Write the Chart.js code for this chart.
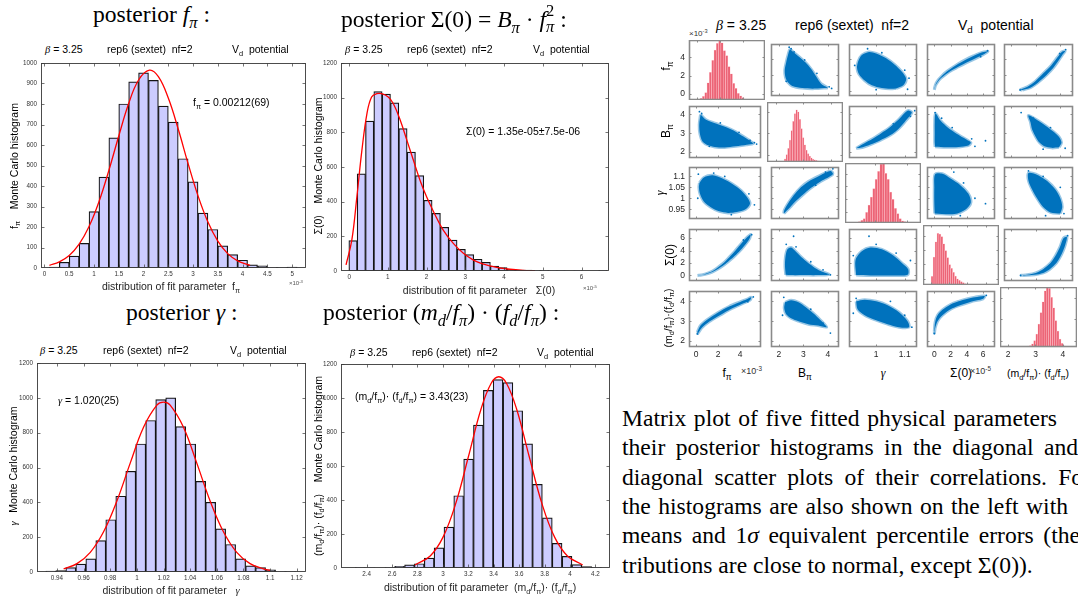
<!DOCTYPE html>
<html><head><meta charset="utf-8">
<script src="https://cdn.jsdelivr.net/npm/chart.js@4.4.1/dist/chart.umd.min.js"></script>
<style>
html,body{margin:0;padding:0;background:#fff;width:1078px;height:601px;overflow:hidden;position:relative;}
canvas{position:absolute;}
.t{position:absolute;white-space:nowrap;line-height:1;color:#000;}
.t sub{font-size:70%;vertical-align:-0.35em;line-height:0;}
.t sup{font-size:70%;vertical-align:0.5em;line-height:0;}
.st{display:inline-block;vertical-align:-0.3em;font-size:70%;line-height:0.95;}
.st span{display:block;}
</style></head><body>
<script>
// ================= DATA =================
// f_pi histogram (units 1e-3)
const fpiBins   = [0.2,0.4,0.6,0.8,1.0,1.2,1.4,1.6,1.8,2.0,2.2,2.4,2.6,2.8,3.0,3.2,3.4,3.6,3.8,4.0,4.2,4.4,4.6,4.8,5.0];
const fpiCounts = [5,28,58,120,275,443,635,800,908,952,915,790,712,533,420,268,188,108,65,38,15,10,3,2,5];
const fpiFitX   = [0.1,0.3,0.5,0.7,0.9,1.1,1.3,1.5,1.7,1.9,2.12,2.3,2.5,2.7,2.9,3.1,3.3,3.5,3.7,3.9,4.15];
const fpiFitY   = [13,30,61,116,202,323,476,644,802,917,965,933,829,678,509,352,224,131,70,35,13];
const fpiXTicks = [0,0.5,1,1.5,2,2.5,3,3.5,4,4.5,5];

// Sigma(0) histogram (units 1e-5)
const sigBins   = [0.1,0.315,0.53,0.745,0.96,1.175,1.39,1.605,1.82,2.035,2.25,2.465,2.68,2.895,3.11,3.325,3.54,3.755,3.97,4.185,4.4,4.615,4.83,5.045,5.26,5.475,5.69,5.905,6.12,6.335,6.55];
const sigCounts = [175,560,865,1035,1020,970,822,686,550,408,332,252,178,125,95,68,50,28,20,10,6,5,3,2,1,1,0,1,0,0,3];
const sigFitX   = [-0.08,0.07,0.2,0.33,0.46,0.58,0.71,0.84,1.01,1.14,1.32,1.49,1.66,1.83,2.0,2.18,2.43,2.69,2.95,3.21,3.47,3.81,4.15,4.5,4.8];
const sigFitY   = [35,179,428,697,908,1004,1023,1023,1004,966,870,755,639,524,428,342,236,159,102,63,40,21,10,4,2];
const sigXTicks = [0,1,2,3,4,5,6];

// gamma histogram
const gamBins   = [0.9354,0.9429,0.9504,0.9579,0.9654,0.9729,0.9804,0.9879,0.9954,1.0029,1.0104,1.0179,1.0254,1.0329,1.0404,1.0479,1.0554,1.0629,1.0704,1.0779,1.0854,1.0929,1.1004,1.1079,1.1154];
const gamCounts = [5,8,25,45,75,180,300,435,578,735,870,990,1000,835,735,520,400,248,158,75,35,25,12,3,3];
const gamFitX   = [0.945,0.955,0.965,0.975,0.985,0.995,1.005,1.015,1.02,1.025,1.035,1.045,1.055,1.065,1.075,1.085,1.095,1.1];
const gamFitY   = [18,48,113,231,408,625,831,958,975,958,831,625,408,231,113,48,18,10];
const gamXTicks = [0.94,0.96,0.98,1,1.02,1.04,1.06,1.08,1.1,1.12];

// (m_d/f_pi)(f_d/f_pi) histogram
const mddBins   = [2.349,2.427,2.504,2.582,2.659,2.737,2.814,2.892,2.969,3.047,3.124,3.202,3.279,3.357,3.434,3.512,3.589,3.667,3.744,3.822,3.899,3.977,4.054,4.132,4.209];
const mddCounts = [2,1,0,2,10,18,25,58,118,240,425,640,840,1045,1108,1090,925,730,492,295,145,68,20,8,3];
const mddFitX   = [2.78,2.9,3.0,3.1,3.2,3.3,3.38,3.44,3.5,3.58,3.68,3.78,3.88,3.98,4.1];
const mddFitY   = [18,71,180,377,653,935,1087,1125,1087,935,653,377,180,71,18];
const mddXTicks = [2.4,2.6,2.8,3,3.2,3.4,3.6,3.8,4,4.2];

// B_pi histogram (matrix diagonal only)
const bpiBins   = [2.22,2.28,2.34,2.40,2.46,2.52,2.58,2.64,2.70,2.76,2.82,2.88,2.94,3.00,3.06,3.12,3.18,3.24,3.30,3.36,3.42,3.48,3.54,3.60,3.66,3.72,3.78,3.84,3.90,3.96,4.02,4.08];
const bpiCounts = [5,20,60,140,260,420,600,780,930,1000,960,820,640,470,330,230,160,115,80,58,42,30,22,16,12,8,6,4,3,2,1,1];

const count1000Ticks = [0,100,200,300,400,500,600,700,800,900,1000];
const count1200Ticks = [0,200,400,600,800,1000,1200];

// matrix: parameter order f_pi, B_pi, gamma, Sigma(0), mdfd
const matYTicks = [[0,2,4],[2,3,4],[0.95,1,1.05,1.1],[0,2,4,6],[2,3,4]];
const matXTicks = [[0,2,4],[2,3,4],[1,1.1],[0,2,4,6],[2,3,4]];

// scatter clouds: outlines of the dense point clouds, as (first param, second param)
const cloudFB = [[0.4,4.0],[0.9,3.72],[1.8,3.52],[2.8,3.3],[3.6,3.08],[4.3,2.82],[5.0,2.55],[5.2,2.45],[4.6,2.38],[3.6,2.3],[2.6,2.24],[1.7,2.27],[1.1,2.36],[0.6,2.55],[0.35,2.95],[0.28,3.45],[0.4,4.0]];
const strayFB = [[0.3,4.15],[5.3,2.5],[4.9,2.62],[0.5,4.05],[4.4,2.7],[3.9,3.05],[2.2,3.55],[1.2,2.3],[5.5,2.42]];
const cloudFG = [[0.3,1.07],[0.7,1.095],[1.5,1.105],[2.4,1.09],[3.3,1.065],[4.1,1.035],[4.7,1.0],[4.9,0.975],[4.5,0.95],[3.7,0.937],[2.9,0.933],[2.1,0.94],[1.3,0.96],[0.7,0.985],[0.35,1.02],[0.25,1.05],[0.3,1.07]];
const strayFG = [[5.3,0.97],[0.2,1.11],[1.6,1.115],[4.8,1.02],[3.2,0.925],[0.15,1.0],[2.6,1.1]];
const cloudFS = [[0.12,0.0],[0.6,0.12],[1.0,0.33],[1.5,0.7],[2.0,1.3],[2.5,2.0],[3.0,2.9],[3.5,3.85],[4.0,4.9],[4.5,5.9],[4.95,6.6],[4.85,5.9],[4.4,4.8],[3.9,3.8],[3.4,2.95],[2.9,2.2],[2.4,1.5],[1.9,0.95],[1.4,0.5],[0.9,0.2],[0.4,0.04],[0.12,0.0]];
const strayFS = [[5.05,6.55],[4.3,5.7]];
const cloudFM = [[0.1,2.45],[0.4,2.78],[1.0,3.07],[2.0,3.44],[3.0,3.74],[4.0,3.97],[4.6,4.1],[5.0,4.2],[4.9,4.06],[4.2,3.88],[3.2,3.63],[2.2,3.31],[1.2,2.98],[0.5,2.66],[0.15,2.38],[0.1,2.45]];
const strayFM = [[5.2,4.22],[0.12,2.36],[4.7,3.98]];
const cloudBG = [[2.2,0.93],[2.45,0.958],[2.7,0.988],[3.0,1.018],[3.3,1.047],[3.7,1.077],[4.2,1.11],[4.1,1.125],[3.6,1.1],[3.2,1.076],[2.9,1.05],[2.6,1.012],[2.4,0.98],[2.22,0.945],[2.2,0.93]];
const strayBG = [[4.2,1.135],[3.9,1.12],[3.5,1.06]];
const cloudBS = [[2.28,0.1],[2.25,1.5],[2.27,3.0],[2.35,4.2],[2.5,4.5],[2.65,4.0],[2.85,3.2],[3.1,2.3],[3.4,1.4],[3.7,0.7],[4.05,0.15],[3.6,0.05],[3.0,0.05],[2.5,0.05],[2.28,0.1]];
const strayBS = [[2.6,6.3],[4.1,0.1],[2.3,5.0],[3.3,2.2],[2.7,4.6],[3.8,0.9]];
const cloudBM = [[2.25,3.95],[2.5,4.05],[2.8,3.95],[3.1,3.7],[3.4,3.4],[3.7,3.05],[3.95,2.7],[3.6,2.78],[3.2,2.85],[2.8,3.0],[2.5,3.15],[2.3,3.35],[2.22,3.65],[2.25,3.95]];
const strayBM = [[4.1,2.4],[2.2,4.2],[3.8,2.9],[3.3,3.6],[2.15,3.3]];
const cloudGS = [[0.93,0.05],[0.928,2.5],[0.95,3.9],[0.98,4.5],[1.02,4.2],[1.06,3.2],[1.09,2.0],[1.112,1.0],[1.11,0.1],[1.05,0.0],[0.98,0.0],[0.93,0.05]];
const strayGS = [[0.975,6.3],[1.12,2.4],[1.0,5.0],[1.07,3.6],[0.92,3.2]];
const cloudGM = [[0.93,4.0],[0.96,4.08],[1.0,4.0],[1.04,3.8],[1.08,3.45],[1.11,3.0],[1.115,2.7],[1.08,2.7],[1.04,2.85],[1.0,3.05],[0.96,3.3],[0.935,3.6],[0.93,4.0]];
const strayGM = [[1.125,2.7],[0.93,4.15],[1.1,3.3],[0.92,3.4],[1.05,4.0]];
const cloudSM = [[0.0,2.5],[0.1,2.95],[0.4,3.3],[1.0,3.57],[2.0,3.84],[3.0,4.0],[4.0,4.12],[5.0,4.21],[6.2,4.27],[6.0,4.13],[4.5,3.98],[3.0,3.78],[2.0,3.6],[1.0,3.3],[0.4,3.0],[0.1,2.65],[0.02,2.4],[0.0,2.5]];
const straySM = [[6.4,4.3],[0.0,2.38],[5.5,4.15]];

// ================= RENDERING =================
const SANS = '"Liberation Sans", Arial, Helvetica, sans-serif';
const SERIF = '"Liberation Serif", "Times New Roman", serif';
Chart.defaults.font.family = SANS;
const fmt = v => String(+(+v).toFixed(4));

// MATLAB-like box: frame, inward ticks on all four sides, tick labels from the scales
const framePlugin = {
  id: 'frame',
  afterDraw(chart, args, o) {
    if (!o || !o.color) return;
    const ctx = chart.ctx, a = chart.chartArea;
    const L = Math.round(a.left) + 0.5, R = Math.round(a.right) - 0.5;
    const T = Math.round(a.top) + 0.5, B = Math.round(a.bottom) - 0.5;
    const n = o.len, xs = chart.scales.x, ys = chart.scales.y;
    const xt = o.xt || [], yt = o.yt || [];
    ctx.save();
    ctx.strokeStyle = o.color; ctx.lineWidth = o.tickWidth || 1;
    ctx.beginPath();
    xt.forEach(v => { const p = Math.round(xs.getPixelForValue(v)) + 0.5; if (p < L || p > R) return;
      ctx.moveTo(p, B); ctx.lineTo(p, B - n); ctx.moveTo(p, T); ctx.lineTo(p, T + n); });
    yt.forEach(v => { const p = Math.round(ys.getPixelForValue(v)) + 0.5; if (p < T || p > B) return;
      ctx.moveTo(L, p); ctx.lineTo(L + n, p); ctx.moveTo(R, p); ctx.lineTo(R - n, p); });
    ctx.stroke();
    ctx.lineWidth = o.width;
    ctx.strokeRect(L, T, R - L, B - T);
    ctx.fillStyle = o.fc; ctx.font = o.fs + 'px ' + SANS;
    if (o.xl) {
      ctx.textAlign = 'center'; ctx.textBaseline = 'top';
      xt.forEach(v => ctx.fillText(fmt(v), xs.getPixelForValue(v), a.bottom + o.lp));
    }
    if (o.yl) {
      ctx.textAlign = 'right'; ctx.textBaseline = 'middle';
      yt.forEach(v => ctx.fillText(fmt(v), a.left - o.lp - 1, ys.getPixelForValue(v)));
    }
    ctx.restore();
  }
};
Chart.register(framePlugin);

function place(rect, pad) {
  const c = document.createElement('canvas');
  c.width = rect.w + pad.l + pad.r; c.height = rect.h + pad.t + pad.b;
  c.style.left = (rect.x - pad.l) + 'px'; c.style.top = (rect.y - pad.t) + 'px';
  document.body.appendChild(c); return c;
}
function axis(min, max, size, isX) {
  return {
    type: 'linear', min, max, offset: false, display: true,
    grid: { display: false }, border: { display: false },
    ticks: { display: false },
    afterFit: s => { if (isX) s.height = size; else s.width = size; s.paddingLeft = s.paddingRight = s.paddingTop = s.paddingBottom = 0; }
  };
}
function baseOpts(pad, frame) {
  return { responsive: false, animation: false, events: [], devicePixelRatio: 1,
    layout: { padding: { left: 0, right: pad.r, top: pad.t, bottom: 0 } },
    plugins: { legend: { display: false }, tooltip: { enabled: false }, frame } };
}

function histPanel(rect, bins, counts, fitX, fitY, xr, yr, xt, yt) {
  const pad = { l: 30, r: 8, t: 6, b: 13 };
  const cv = place(rect, pad);
  const o = baseOpts(pad, { color: '#3a3a3a', width: 0.9, len: 3, tickWidth: 0.7, xt, yt, xl: true, yl: true, fs: 6.3, fc: '#333', lp: 3 });
  o.scales = { x: axis(xr[0], xr[1], pad.b, true), y: axis(yr[0], yr[1], pad.l, false) };
  new Chart(cv, { type: 'bar', data: { datasets: [
    { type: 'line', data: fitX.map((x, k) => ({ x, y: fitY[k] })), borderColor: '#ff0000', borderWidth: 1.3, pointRadius: 0, tension: 0.4, fill: false, order: 0 },
    { type: 'bar', data: bins.map((x, k) => ({ x, y: counts[k] })), backgroundColor: 'rgb(204,204,255)', borderColor: '#141414', borderWidth: 1.2, borderSkipped: false, barPercentage: 1, categoryPercentage: 1, grouped: false, order: 1 }
  ] }, options: o });
}

histPanel({ x: 41, y: 63, w: 265, h: 205 }, fpiBins, fpiCounts, fpiFitX, fpiFitY, [-0.07, 5.28], [0, 1000], fpiXTicks, count1000Ticks);
histPanel({ x: 341, y: 63, w: 268, h: 208 }, sigBins, sigCounts, sigFitX, sigFitY, [-0.21, 6.71], [0, 1200], sigXTicks, count1200Ticks);
histPanel({ x: 37, y: 363, w: 269, h: 209 }, gamBins, gamCounts, gamFitX, gamFitY, [0.925, 1.127], [0, 1200], gamXTicks, count1200Ticks);
histPanel({ x: 341, y: 364, w: 269, h: 204 }, mddBins, mddCounts, mddFitX, mddFitY, [2.198, 4.315], [0, 1200], mddXTicks, count1200Ticks);

// ---- matrix plot ----
const matRange = [[-0.65, 5.9], [1.68, 4.45], [0.905, 1.143], [-0.9, 7.47], [1.7, 4.52]];
const diagBins = [fpiBins, bpiBins, gamBins, sigBins, mddBins];
const diagCounts = [fpiCounts, bpiCounts, gamCounts, sigCounts, mddCounts];
const diagMax = [960, 1150, 1010, 1200, 1115];
const pairs = {
  '0-1': [cloudFB, strayFB], '0-2': [cloudFG, strayFG], '0-3': [cloudFS, strayFS], '0-4': [cloudFM, strayFM],
  '1-2': [cloudBG, strayBG], '1-3': [cloudBS, strayBS], '1-4': [cloudBM, strayBM],
  '2-3': [cloudGS, strayGS], '2-4': [cloudGM, strayGM], '3-4': [cloudSM, straySM]
};
const colX = [689, 767, 845, 923, 1000], colW = [76, 76, 76, 76, 77];
const rowY = [40, 102, 163, 225, 287], rowH = 60;
const BLUE = '#0072BD';
for (let i = 0; i < 5; i++) {
  for (let j = 0; j < 5; j++) {
    const pad = { l: j === 0 ? 26 : 0, r: 0, t: 0, b: i === 4 ? 14 : 0 };
    const rect = { x: colX[j], y: rowY[i], w: colW[j], h: rowH };
    const cv = place(rect, pad);
    const o = baseOpts(pad, { color: '#8a8a8a', width: 1.6, len: 2, tickWidth: 1,
      xt: matXTicks[j], yt: matYTicks[i], xl: i === 4, yl: j === 0, fs: 8.5, fc: '#262626', lp: 3 });
    o.scales = { x: axis(matRange[j][0], matRange[j][1], pad.b, true), y: axis(matRange[i][0], matRange[i][1], pad.l, false) };
    let cfg;
    if (i === j) {
      o.scales.yc = { type: 'linear', display: false, min: 0, max: diagMax[i] };
      cfg = { type: 'bar', data: { datasets: [{ type: 'bar', yAxisID: 'yc', data: diagBins[i].map((x, k) => ({ x, y: diagCounts[i][k] })),
        backgroundColor: 'rgb(236,100,118)', borderColor: 'rgba(255,200,208,0.85)', borderWidth: 0.5, borderSkipped: false,
        barPercentage: 1, categoryPercentage: 1, grouped: false }] }, options: o };
    } else {
      const a = Math.min(i, j), b = Math.max(i, j);
      const [cloud, stray] = pairs[a + '-' + b];
      // first element = param a, second = param b ; x = param j, y = param i
      const map = j < i ? (p => ({ x: p[0], y: p[1] })) : (p => ({ x: p[1], y: p[0] }));
      cfg = { type: 'line', data: { datasets: [
        { data: cloud.map(map), fill: 'shape', backgroundColor: BLUE, borderColor: 'rgba(0,114,189,0.4)', borderWidth: 3, pointRadius: 0, tension: 0.3 },
        { data: stray.map(map), showLine: false, pointRadius: 0.9, pointBackgroundColor: BLUE, pointBorderWidth: 0 }
      ] }, options: o };
    }
    new Chart(cv, cfg);
  }
}

// ================= TEXT =================
function T(html, x, base, size, opt = {}) {
  const d = document.createElement('div'); d.className = 't'; d.innerHTML = html;
  d.style.fontSize = size + 'px'; d.style.fontFamily = opt.serif ? SERIF : SANS;
  d.style.top = (base - 0.86 * size) + 'px'; d.style.left = x + 'px';
  if (opt.mid) d.style.transform = 'translateX(-50%)';
  if (opt.w) { d.style.width = opt.w + 'px'; d.style.textAlign = 'justify'; d.style.textAlignLast = 'justify'; d.style.whiteSpace = 'normal'; }
  if (opt.color) d.style.color = opt.color;
  document.body.appendChild(d); return d;
}
function RT(html, cx, cy, size, opt = {}) {
  const d = document.createElement('div'); d.className = 't'; d.innerHTML = html;
  d.style.fontSize = size + 'px'; d.style.fontFamily = opt.serif ? SERIF : SANS;
  d.style.left = cx + 'px'; d.style.top = cy + 'px';
  d.style.transform = 'translate(-50%,-50%) rotate(-90deg)';
  document.body.appendChild(d); return d;
}
const gb = '<i style="font-family:' + SERIF.replace(/"/g, "'") + '">β</i>';
const gg = '<i style="font-family:' + SERIF.replace(/"/g, "'") + '">γ</i>';
const MD = '(m<sub>d</sub>/f<sub>π</sub>)· (f<sub>d</sub>/f<sub>π</sub>)';

// headers
const HS = 23.6;
T('posterior <i>f</i><sub><i>π</i></sub> :', 93, 23.5, HS, { serif: true });
T('posterior Σ(0) = <i>B</i><sub><i>π</i></sub> · <i>f</i><span class="st"><span>2</span><span><i>π</i></span></span> :', 341, 23.5, HS, { serif: true });
T('posterior <i>γ</i> :', 126, 321, HS, { serif: true });
T('posterior (<i>m<sub>d</sub></i>/<i>f</i><sub><i>π</i></sub>) · (<i>f<sub>d</sub></i>/<i>f</i><sub><i>π</i></sub>) :', 323, 321, HS, { serif: true });

// panel titles
const TS = 10.5;
function ptitle(base, x1, x2, x3) {
  T(gb + ' = 3.25', x1, base, TS);
  T('rep6 (sextet)&nbsp; nf=2', x2, base, TS);
  T('V<sub>d</sub>&nbsp; potential', x3, base, TS);
}
ptitle(53.5, 45, 107, 232);
ptitle(53, 345, 407, 533);
ptitle(354.5, 40, 103, 230);
ptitle(356, 350, 412, 537);

// axis labels
T('distribution of fit parameter&nbsp; f<sub>π</sub>', 171, 290, TS, { mid: true, color: '#262626' });
T('distribution of fit parameter&nbsp;&nbsp; Σ(0)', 479, 294, TS, { mid: true, color: '#262626' });
T('distribution of fit parameter&nbsp;&nbsp; ' + gg, 171, 594, TS, { mid: true, color: '#262626' });
T('distribution of fit parameter&nbsp; ' + MD, 480, 591, TS, { mid: true, color: '#262626' });
RT('f<sub>π</sub>&nbsp;&nbsp;&nbsp; Monte Carlo histogram', 13.5, 166, TS);
RT('Σ(0)&nbsp;&nbsp;&nbsp; Monte Carlo histogram', 318, 166, TS);
RT(gg + '&nbsp;&nbsp; Monte Carlo histogram', 13.5, 466, TS);
RT(MD + '&nbsp;&nbsp;&nbsp; Monte Carlo histogram', 318, 466, TS);
T('×10<sup>-3</sup>', 289, 285, 6, { color: '#555' });
T('×10<sup>-5</sup>', 583, 290, 6, { color: '#555' });

// annotations
T('f<sub>π</sub> = 0.00212(69)', 193, 106.5, TS);
T('Σ(0) = 1.35e-05±7.5e-06', 466, 135, TS);
T(gg + ' = 1.020(25)', 58, 404, TS);
T(MD + ' = 3.43(23)', 355, 400, TS);

// matrix titles and labels
T(gb + ' = 3.25', 716, 30, 14);
T('rep6 (sextet)&nbsp; nf=2', 795, 30, 14);
T('V<sub>d</sub>&nbsp; potential', 958, 30, 14);
T('×10<sup>-3</sup>', 689, 37, 8, { color: '#333' });
RT('f<sub>π</sub>', 666, 66, 12);
RT('B<sub>π</sub>', 666, 131, 12);
RT(gg, 660, 193, 12);
RT('Σ(0)', 670, 255, 12);
RT('(m<sub>d</sub>/f<sub>π</sub>)·(f<sub>d</sub>/f<sub>π</sub>)', 668, 318, 10.5);
T('f<sub>π</sub>', 727, 377, 12, { mid: true });
T('×10<sup>-3</sup>', 741, 375, 9, { color: '#333' });
T('B<sub>π</sub>', 805, 377, 12, { mid: true });
T(gg, 883, 377, 12, { mid: true });
T('Σ(0)', 950, 377, 12);
T('×10<sup>-5</sup>', 970, 375, 9, { color: '#333' });
T('(m<sub>d</sub>/f<sub>π</sub>)· (f<sub>d</sub>/f<sub>π</sub>)', 1007, 377, 10.5);

// caption paragraph
const PS = 23.6;
T('Matrix plot of five fitted physical parameters', 622, 427.3, PS, { serif: true, w: 435 });
T('their posterior histograms in the diagonal and', 622, 456.6, PS, { serif: true, w: 456 });
T('diagonal scatter plots of their correlations. For', 622, 485.9, PS, { serif: true, w: 469 });
T('the histograms are also shown on the left with', 622, 515.2, PS, { serif: true, w: 446 });
T('means and 1<i>σ</i> equivalent percentile errors (the', 622, 544.5, PS, { serif: true, w: 458 });
T('tributions are close to normal, except Σ(0)).', 622, 573.8, PS, { serif: true });
</script>
</body></html>
